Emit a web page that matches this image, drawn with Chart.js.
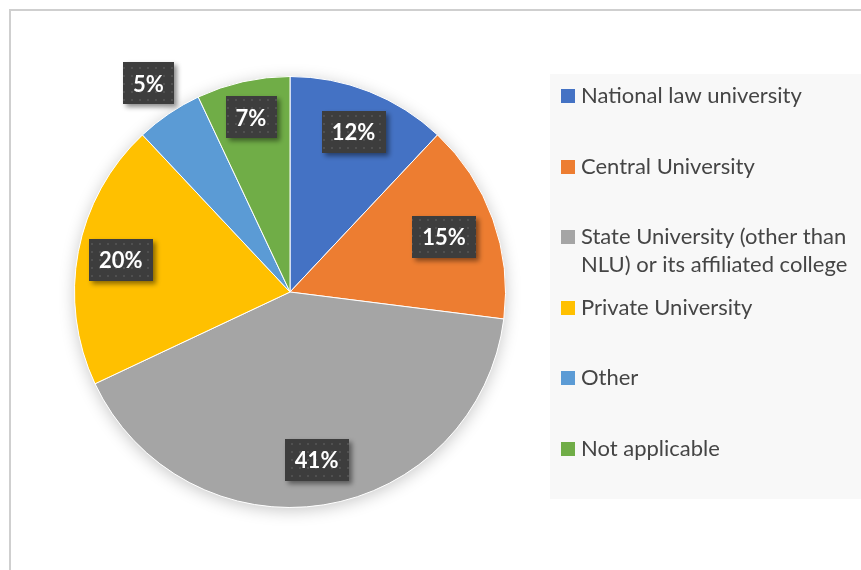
<!DOCTYPE html>
<html>
<head>
<meta charset="utf-8">
<script src="https://cdn.jsdelivr.net/npm/chart.js@4.4.1/dist/chart.umd.min.js"></script>
<style>
	html, body { margin: 0; padding: 0; background: #fff; }
	#wrap { position: relative; width: 861px; height: 570px; overflow: hidden; }
</style>
</head>
<body>
<div id="wrap"><canvas id="chart" width="861" height="570"></canvas></div>
<script>
const categories = [
	'National law university',
	'Central University',
	['State University (other than', 'NLU) or its affiliated college'],
	'Private University',
	'Other',
	'Not applicable'
];
const shares = [12, 15, 41, 20, 5, 7];
const sliceColors = ['#4472C4', '#ED7D31', '#A5A5A5', '#FFC000', '#5B9BD5', '#70AD47'];

// dotted dark fill for the value boxes
function makeDotPattern(ctx) {
	const tile = document.createElement('canvas');
	tile.width = 8;
	tile.height = 8;
	const t = tile.getContext('2d');
	t.fillStyle = '#3d3d3d';
	t.fillRect(0, 0, 8, 8);
	t.fillStyle = '#505050';
	t.fillRect(3, 3, 2, 2);
	return ctx.createPattern(tile, 'repeat');
}

const framePlugin = {
	id: 'frame',
	beforeDraw(chart) {
		const ctx = chart.ctx;
		ctx.save();
		ctx.strokeStyle = '#cfcfcf';
		ctx.lineWidth = 2;
		ctx.strokeRect(10, 10, 900, 600);
		ctx.fillStyle = '#f8f8f8';
		ctx.fillRect(550, 74, 320, 425);
		ctx.restore();
	}
};

const pieShadow = {
	id: 'pieShadow',
	beforeDatasetsDraw(chart) {
		const arc = chart.getDatasetMeta(0).data[0];
		if (!arc) return;
		const {x, y, outerRadius} = arc.getProps(['x', 'y', 'outerRadius'], true);
		const ctx = chart.ctx;
		ctx.save();
		ctx.shadowColor = 'rgba(0,0,0,0.22)';
		ctx.shadowBlur = 16;
		ctx.shadowOffsetY = 3;
		ctx.fillStyle = '#fff';
		ctx.beginPath();
		ctx.arc(x, y, outerRadius, 0, Math.PI * 2);
		ctx.fill();
		ctx.restore();
	}
};

const valueBoxes = {
	id: 'valueBoxes',
	afterDatasetsDraw(chart, args, opts) {
		const ctx = chart.ctx;
		const pattern = makeDotPattern(ctx);
		const values = chart.data.datasets[0].data;
		ctx.save();
		ctx.font = 'bold 22px Lato';
		ctx.textAlign = 'center';
		ctx.textBaseline = 'middle';
		chart.getDatasetMeta(0).data.forEach((arc, i) => {
			const p = arc.getProps(['x', 'y', 'startAngle', 'endAngle', 'outerRadius'], true);
			const mid = (p.startAngle + p.endAngle) / 2;
			const r = p.outerRadius * opts.radius[i];
			const cx = p.x + Math.cos(mid) * r;
			const cy = p.y + Math.sin(mid) * r;
			const text = values[i] + '%';
			const w = ctx.measureText(text).width + 20;
			const h = 42;
			ctx.save();
			ctx.shadowColor = 'rgba(0,0,0,0.45)';
			ctx.shadowBlur = 5;
			ctx.shadowOffsetX = 3;
			ctx.shadowOffsetY = 3;
			ctx.fillStyle = pattern;
			ctx.fillRect(Math.round(cx - w / 2), Math.round(cy - h / 2), Math.round(w), h);
			ctx.restore();
			ctx.fillStyle = '#fff';
			ctx.fillText(text, cx, cy + 1);
		});
		ctx.restore();
	}
};

const sideLegend = {
	id: 'sideLegend',
	afterDraw(chart, args, opts) {
		const ctx = chart.ctx;
		const colors = chart.data.datasets[0].backgroundColor;
		ctx.save();
		ctx.font = '22px Lato';
		ctx.textBaseline = 'middle';
		chart.data.labels.forEach((label, i) => {
			const y = opts.top + i * opts.step;
			ctx.fillStyle = colors[i];
			ctx.fillRect(561, Math.round(y - 7), 14, 14);
			ctx.fillStyle = '#454545';
			[].concat(label).forEach((line, j) => {
				ctx.fillText(line, 581, y + j * 28);
			});
		});
		ctx.restore();
	}
};

new Chart(document.getElementById('chart'), {
	type: 'pie',
	data: {
		labels: categories,
		datasets: [{
			data: shares,
			backgroundColor: sliceColors,
			borderColor: '#ffffff',
			borderWidth: 1
		}]
	},
	options: {
		responsive: false,
		animation: false,
		layout: { padding: { left: 74, right: 355, top: 76, bottom: 62 } },
		plugins: {
			legend: { display: false },
			tooltip: { enabled: false },
			valueBoxes: { radius: [0.8, 0.76, 0.79, 0.8, 1.17, 0.83] },
			sideLegend: { top: 96, step: 70.6 }
		}
	},
	plugins: [framePlugin, pieShadow, valueBoxes, sideLegend]
});
</script>
</body>
</html>
